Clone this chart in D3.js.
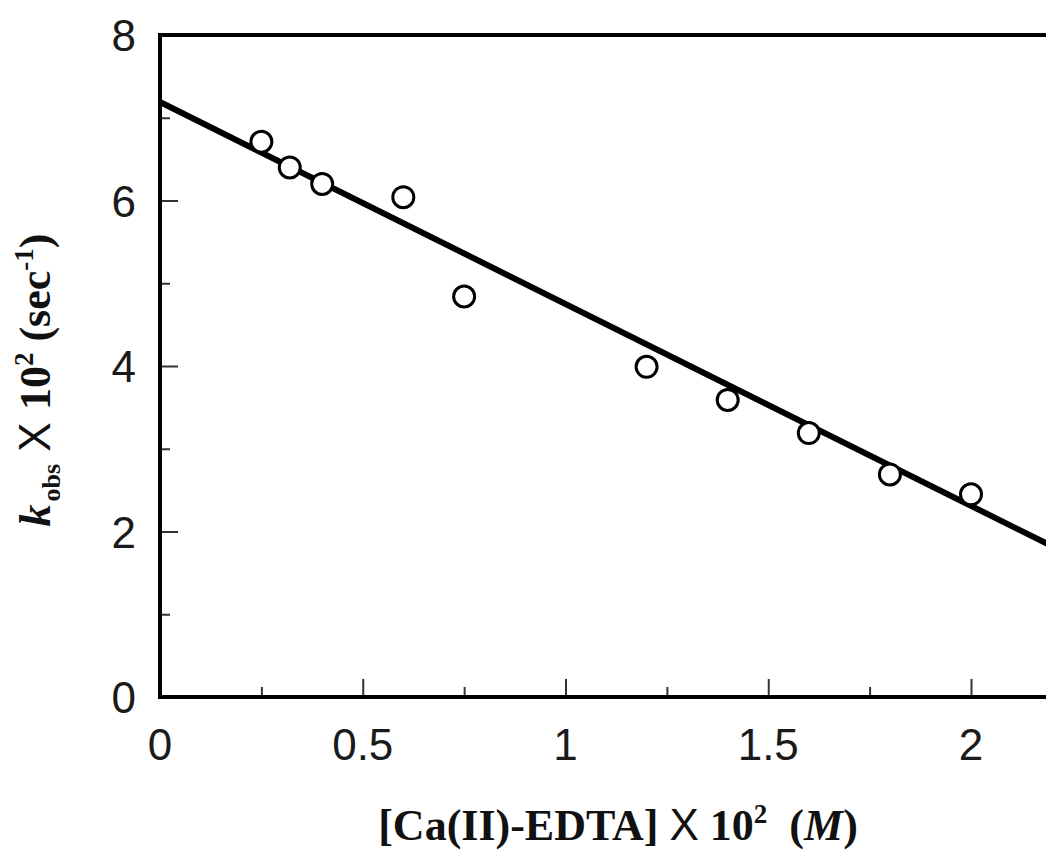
<!DOCTYPE html>
<html>
<head>
<meta charset="utf-8">
<script src="https://cdn.jsdelivr.net/npm/d3@7"></script>
<style>
  html, body { margin: 0; padding: 0; background: #fff; }
  svg { display: block; }
</style>
</head>
<body>
<svg id="chart" width="1046" height="852"></svg>
<script>
// Observed rate constants vs. Ca(II)-EDTA concentration
const concentration = [0.25, 0.32, 0.40, 0.60, 0.75, 1.20, 1.40, 1.60, 1.80, 2.00];
const kObs = [6.71, 6.40, 6.20, 6.04, 4.84, 3.99, 3.59, 3.19, 2.69, 2.45];

// Linear fit drawn across the plot
const fitX = [0, 2.2];
const fitIntercept = 7.19;
const fitSlope = -2.44;

const xMajorTicks = [0, 0.5, 1, 1.5, 2];
const xMinorTicks = [0.25, 0.75, 1.25, 1.75];
const yMajorTicks = [0, 2, 4, 6, 8];
const yMinorTicks = [1, 3, 5, 7];

const svg = d3.select("#chart");
const plotLeft = 160, plotTop = 35, plotBottom = 697;
const x = d3.scaleLinear().domain([0, 2.2]).range([plotLeft, plotLeft + 2.2 * 405.5]);
const y = d3.scaleLinear().domain([0, 8]).range([plotBottom, plotTop]);

const sans = "'Liberation Sans', Arial, Helvetica, sans-serif";
const serif = "'Liberation Serif', 'Times New Roman', Times, serif";

// Inward-facing ticks
const xAxisMajor = d3.axisTop(x).tickValues(xMajorTicks).tickSize(18).tickFormat("");
const xAxisMinor = d3.axisTop(x).tickValues(xMinorTicks).tickSize(10).tickFormat("");
const yAxisMajor = d3.axisRight(y).tickValues(yMajorTicks).tickSize(18).tickFormat("");
const yAxisMinor = d3.axisRight(y).tickValues(yMinorTicks).tickSize(10).tickFormat("");

[xAxisMajor, xAxisMinor].forEach(ax => {
  const g = svg.append("g").attr("transform", `translate(0,${plotBottom})`).call(ax);
  g.select(".domain").remove();
  g.selectAll("line").attr("stroke", "#333").attr("stroke-width", 2);
});
[yAxisMajor, yAxisMinor].forEach(ax => {
  const g = svg.append("g").attr("transform", `translate(${plotLeft},0)`).call(ax);
  g.select(".domain").remove();
  g.selectAll("line").attr("stroke", "#333").attr("stroke-width", 2);
});

// Frame
svg.append("path")
  .attr("d", `M${x(2.2)},${y(8)}H${x(0)}V${y(0)}H${x(2.2)}`)
  .attr("fill", "none").attr("stroke", "#000").attr("stroke-width", 4);

// Tick labels
svg.append("g").selectAll("text").data(xMajorTicks).join("text")
  .attr("x", d => x(d)).attr("y", 760)
  .attr("text-anchor", "middle")
  .attr("font-family", sans).attr("font-size", 44).attr("fill", "#1a1a1a")
  .text(d => d3.format("~g")(d));

svg.append("g").selectAll("text").data(yMajorTicks).join("text")
  .attr("x", 136).attr("y", d => y(d) + 16)
  .attr("text-anchor", "end")
  .attr("font-family", sans).attr("font-size", 44).attr("fill", "#1a1a1a")
  .text(d => d);

// Fit line
const line = d3.line().x(d => x(d)).y(d => y(fitIntercept + fitSlope * d));
svg.append("path").datum(fitX)
  .attr("d", line)
  .attr("fill", "none").attr("stroke", "#000").attr("stroke-width", 6);

// Data points
svg.append("g").selectAll("circle").data(concentration).join("circle")
  .attr("cx", d => x(d)).attr("cy", (d, i) => y(kObs[i]))
  .attr("r", 10.5)
  .attr("fill", "#fff").attr("stroke", "#000").attr("stroke-width", 3);

// X axis title
const xt = svg.append("text")
  .attr("x", 618).attr("y", 840)
  .attr("text-anchor", "middle")
  .attr("font-family", serif).attr("font-size", 44).attr("font-weight", "bold").attr("fill", "#111");
xt.append("tspan").text("[Ca(II)-EDTA] ");
xt.append("tspan").attr("font-family", sans).attr("font-weight", "normal").text("X");
xt.append("tspan").text(" 10");
xt.append("tspan").attr("font-size", 27).attr("dy", -17).text("2");
xt.append("tspan").attr("dy", 17).text("\u00a0 (");
xt.append("tspan").attr("font-style", "italic").text("M");
xt.append("tspan").text(")");

// Y axis title
const yt = svg.append("text")
  .attr("transform", "translate(50,380) rotate(-90)")
  .attr("text-anchor", "middle")
  .attr("font-family", serif).attr("font-size", 44).attr("font-weight", "bold").attr("fill", "#111");
yt.append("tspan").attr("font-style", "italic").text("k");
yt.append("tspan").attr("font-size", 26).attr("dx", 3).attr("dy", 10).text("obs");
yt.append("tspan").attr("dy", -10).attr("font-family", sans).attr("font-weight", "normal").text(" X ");
yt.append("tspan").text("10");
yt.append("tspan").attr("font-size", 27).attr("dy", -17).text("2");
yt.append("tspan").attr("dy", 17).text(" (sec");
yt.append("tspan").attr("font-size", 27).attr("dy", -17).text("-1");
yt.append("tspan").attr("dy", 17).text(")");
</script>
</body>
</html>
